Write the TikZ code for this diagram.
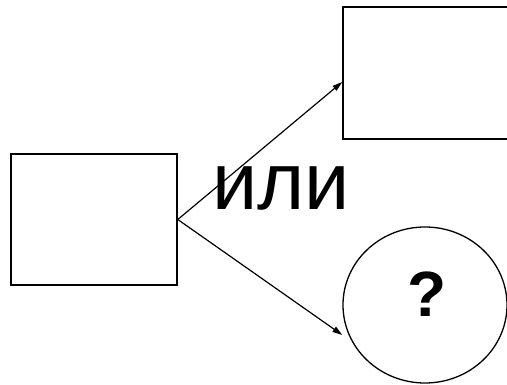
\documentclass[tikz,border=0pt]{standalone}
\usepackage{fontspec}
\setmainfont{Liberation Sans}
\usetikzlibrary{arrows.meta, shapes.geometric}

\begin{document}
\begin{tikzpicture}[x=1pt, y=-1pt,
  box/.style={rectangle, draw, line width=1.6pt, inner sep=0pt},
  circ/.style={ellipse, draw, line width=1.3pt, minimum width=164pt, minimum height=156pt, inner sep=0pt},
  e/.style={-{Triangle[length=10pt, width=6pt]}, line width=1.2pt}]
  \useasboundingbox (0,0) rectangle (507,385);
  \node[box, minimum width=166pt, minimum height=131pt] (src) at (94,219.5) {};
  \node[box, minimum width=170pt, minimum height=132pt] (top) at (428,73) {};
  \node[circ] (bot) at (425,305) {};
  \node[anchor=base, font=\bfseries\fontsize{64}{70}\selectfont] (q) at (427,317) {?};
  \node[anchor=base, font=\fontsize{81}{90}\selectfont] (ili) at (281,210) {или};
  \draw[e] (src.east) -- ([yshift=-9pt]top.west);
  \draw[e] (src.east) -- ([yshift=-30pt]bot.west);
\end{tikzpicture}
\end{document}
